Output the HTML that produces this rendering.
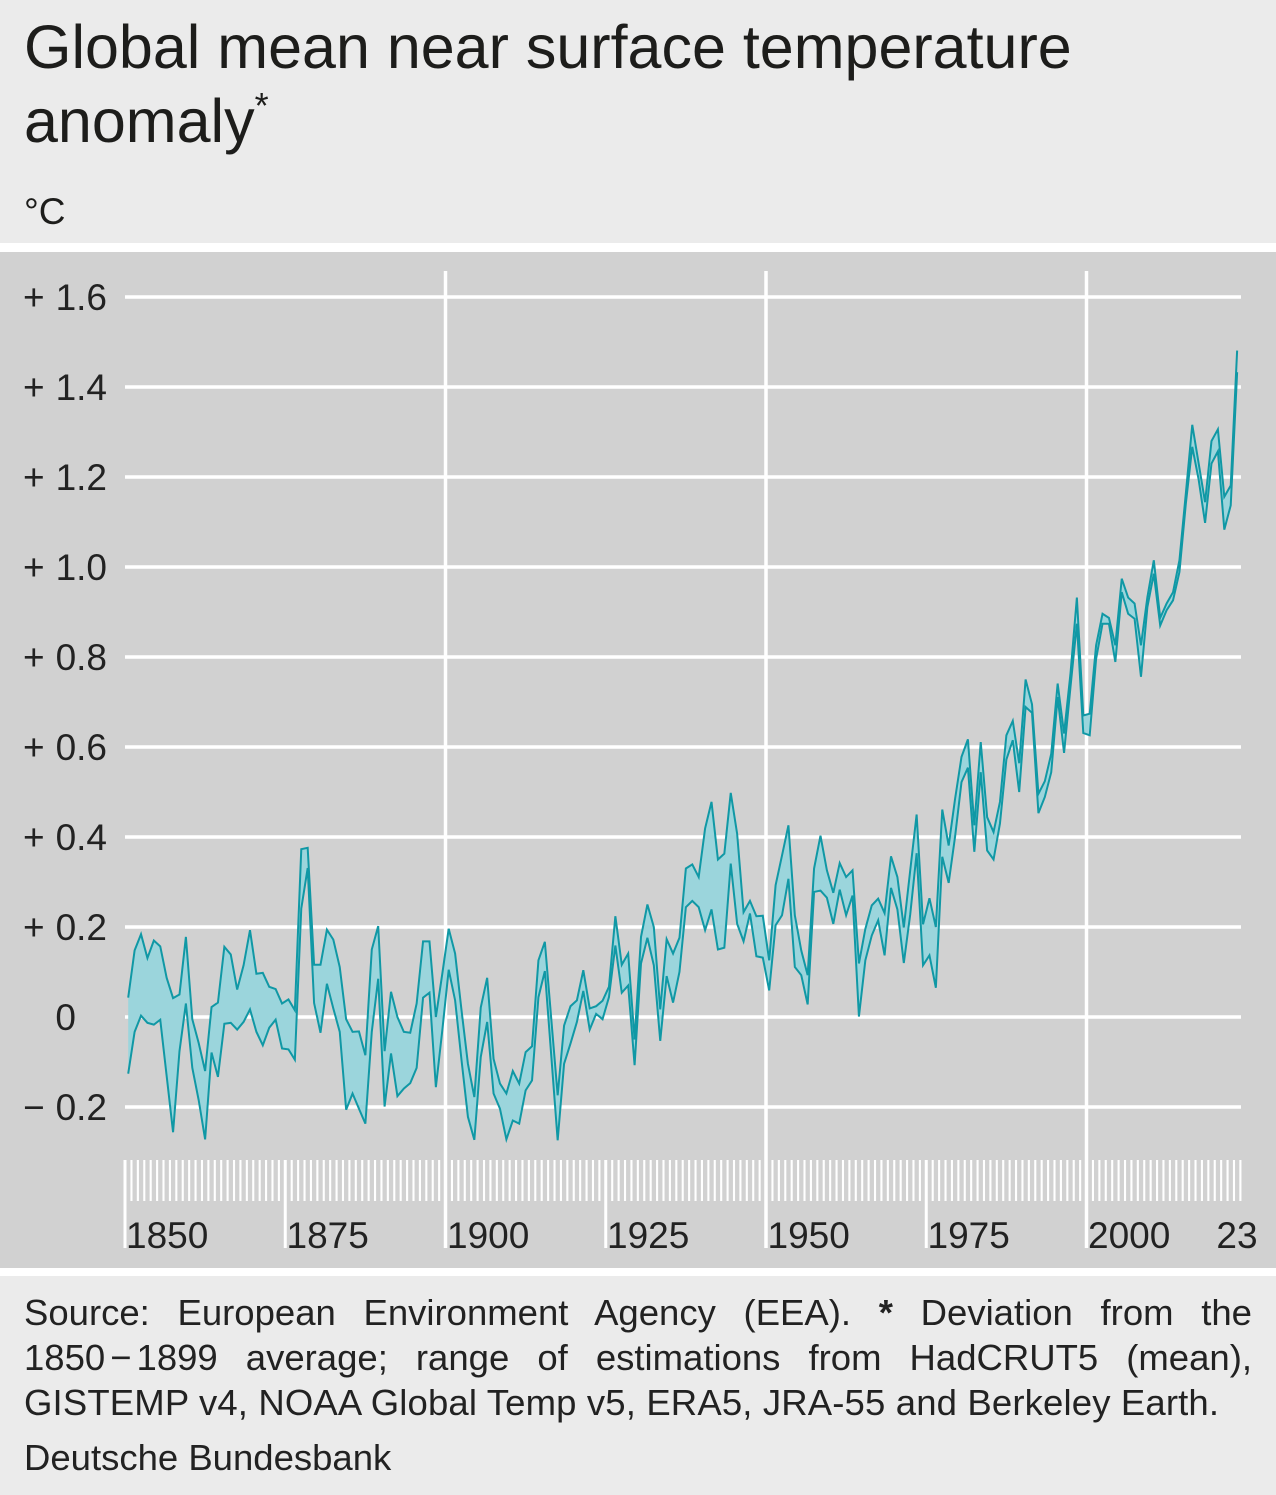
<!DOCTYPE html>
<html><head><meta charset="utf-8"><style>
html,body{margin:0;padding:0;}
body{width:1276px;height:1495px;position:relative;overflow:hidden;background:#ebebeb;font-family:"Liberation Sans",sans-serif;}
svg{position:absolute;left:0;top:0;}
.f{position:absolute;left:24px;width:1228px;font-size:36.5px;line-height:45px;color:#222;}
.j{text-align:justify;text-align-last:justify;}
</style></head><body>
<svg width="1276" height="1495" viewBox="0 0 1276 1495">
<defs>
<mask id="m" maskUnits="userSpaceOnUse" x="-10" y="-100" width="200" height="300">
<polygon fill="#fff" points="0,4.3 1,14.8 2,18.4 3,13.1 4,17 5,15.7 6,8.7 7,4.2 8,5 9,17.8 10,-0.5 11,-5.8 12,-12 13,2.2 14,3.2 15,15.6 16,13.9 17,6.1 18,11.5 19,19.3 20,9.6 21,9.8 22,6.7 23,6.2 24,3 25,3.9 26,1.5 27,37.3 28,37.6 29,11.6 30,11.6 31,19.4 32,17.2 33,11.1 34,-0.5 35,-3.3 36,-3.2 37,-8.5 38,15 39,20.2 40,-7.6 41,5.6 42,0 43,-3.3 44,-3.5 45,3 46,16.8 47,16.8 48,0 49,9.6 50,19.6 51,14.1 52,1.5 53,-10.4 54,-17.8 55,2.1 56,8.7 57,-9.3 58,-14.8 59,-17 60,-12 61,-14.8 62,-7.8 63,-6.5 64,12.6 65,16.7 66,-0.4 67,-17.4 68,-1.9 69,2.4 70,3.7 71,10.4 72,1.9 73,2.4 74,3.6 75,6.7 76,22.4 77,11.6 78,14.1 79,-5 80,17.8 81,25 82,20 83,1.7 84,17.3 85,14.1 86,17.6 87,33 88,33.9 89,31.1 90,41.9 91,47.8 92,35 93,36.3 94,49.8 95,40.7 96,23.3 97,25.8 98,22.4 99,22.5 100,12.6 101,29.3 102,35.9 103,42.6 104,22.6 105,14.8 106,9.3 107,33 108,40.3 109,32.6 110,27.6 111,34.2 112,31.1 113,32.6 114,11.9 115,19.6 116,24.8 117,26.3 118,23.1 119,35.7 120,31.1 121,19.9 122,32.6 123,45 124,20.6 125,26.4 126,20 127,46.1 128,38.1 129,48.5 130,57.8 131,61.7 132,42.6 133,61.1 134,44.4 135,41.1 136,47.8 137,62.6 138,65.8 139,56.4 140,75 141,69.5 142,49.6 143,52.4 144,58.5 145,74.1 146,63 147,76.3 148,93.2 149,67 150,67.4 151,82.6 152,89.6 153,88.7 154,82.6 155,97.4 156,93.2 157,91.9 158,82.6 159,93.3 160,101.5 161,88.7 162,91.9 163,94.4 164,101.5 165,116.4 166,131.6 167,123 168,114.4 169,128 170,130.6 171,115.6 172,118.1 173,148.1 173,-60 0,-60"/>
<polygon fill="#000" points="0,-12.6 1,-3.3 2,0.3 3,-1.3 4,-1.7 5,-0.6 6,-13.1 7,-25.6 8,-7.6 9,3 10,-11.3 11,-18.5 12,-27.2 13,-7.9 14,-13.3 15,-1.5 16,-1.3 17,-2.8 18,-1.1 19,1.7 20,-3.3 21,-6.3 22,-2.4 23,-0.6 24,-7 25,-7.2 26,-9.5 27,24.1 28,33.1 29,3.1 30,-3.5 31,7.4 32,1.9 33,-3.3 34,-20.6 35,-17 36,-20.4 37,-23.7 38,-3.3 39,8.5 40,-19.9 41,-8.1 42,-17.6 43,-15.9 44,-14.7 45,-11.3 46,4.3 47,5.4 48,-15.6 49,-3 50,10.5 51,3.7 52,-9.6 53,-22.2 54,-27.3 55,-8.9 56,-1.1 57,-17 58,-20.4 59,-27.2 60,-23 61,-23.7 62,-16.3 63,-14.1 64,4.4 65,10.2 66,-8.6 67,-27.4 68,-10.4 69,-5.9 70,-1.1 71,5.8 72,-2.8 73,0.7 74,-0.5 75,4.4 76,15.9 77,5.4 78,7 79,-10.7 80,11.9 81,17.6 82,11.5 83,-5.3 84,9.1 85,3.2 86,10 87,24.4 88,25.8 89,24.4 90,19.3 91,23.9 92,15 93,15.4 94,34.1 95,20.7 96,16.8 97,23 98,13.5 99,13.2 100,5.9 101,20.4 102,22.6 103,30.7 104,11.1 105,9.3 106,2.8 107,27.8 108,28.1 109,26.5 110,20.7 111,28.3 112,22.6 113,27 114,0.1 115,12.6 116,18.1 117,21.5 118,13.7 119,28.7 120,23.9 121,12 122,22.8 123,36.4 124,11.5 125,13.7 126,6.5 127,35.6 128,29.8 129,40.1 130,52.2 131,55.4 132,36.7 133,54.4 134,37 135,35 136,43 137,57.2 138,61.5 139,50 140,68.9 141,67.6 142,45.3 143,48.9 144,54.4 145,71.1 146,58.7 147,73.3 148,87.4 149,63.1 150,62.6 151,79.6 152,87.4 153,87.4 154,78.9 155,94.4 156,89.6 157,88.5 158,75.6 159,91.1 160,98.5 161,87 162,90.4 163,92.6 164,98.9 165,114.1 166,126.7 167,119.4 168,109.8 169,123 170,125.7 171,108.3 172,113.7 173,143.3 180,143.3 180,-80 -10,-80 -10,-12.6"/>
</mask>
</defs>
<rect width="1276" height="1495" fill="#ebebeb"/>
<rect y="243" width="1276" height="9" fill="#fff"/>
<rect y="252" width="1276" height="1016" fill="#d1d1d1"/>
<rect y="1268" width="1276" height="8" fill="#fff"/>

<g font-family="Liberation Sans, sans-serif" fill="#1d1d1b">
<text x="24" y="68" font-size="61">Global mean near surface temperature</text>
<text x="24" y="142" font-size="61">anomaly<tspan font-size="36" dy="-24">*</tspan></text>
<text x="24" y="224" font-size="37">°C</text>
</g>

<g stroke="#fff" stroke-width="3.5">
<line x1="125" y1="297" x2="1241" y2="297"/>
<line x1="125" y1="387" x2="1241" y2="387"/>
<line x1="125" y1="477" x2="1241" y2="477"/>
<line x1="125" y1="567" x2="1241" y2="567"/>
<line x1="125" y1="657" x2="1241" y2="657"/>
<line x1="125" y1="747" x2="1241" y2="747"/>
<line x1="125" y1="837" x2="1241" y2="837"/>
<line x1="125" y1="927" x2="1241" y2="927"/>
<line x1="125" y1="1017" x2="1241" y2="1017"/>
<line x1="125" y1="1107" x2="1241" y2="1107"/>
<line x1="445.5" y1="271" x2="445.5" y2="1248"/>
<line x1="766" y1="271" x2="766" y2="1248"/>
<line x1="1086.5" y1="271" x2="1086.5" y2="1248"/>
</g>
<line x1="124" y1="1180.5" x2="1242" y2="1180.5" stroke="#fff" stroke-width="41" stroke-dasharray="2.1 4.31"/>
<g stroke="#fff" stroke-width="3">
<line x1="125" y1="1160" x2="125" y2="1248"/>
<line x1="285.25" y1="1160" x2="285.25" y2="1248"/>
<line x1="605.75" y1="1160" x2="605.75" y2="1248"/>
<line x1="926.25" y1="1160" x2="926.25" y2="1248"/>
</g>

<g transform="translate(128.2 1017) scale(6.41 -4.5)">
<rect x="-1" y="-60" width="176" height="220" fill="#9bd5dc" mask="url(#m)"/>
<polyline fill="none" stroke="#1098a5" stroke-width="2" vector-effect="non-scaling-stroke" stroke-linejoin="miter" points="0,4.3 1,14.8 2,18.4 3,13.1 4,17 5,15.7 6,8.7 7,4.2 8,5 9,17.8 10,-0.5 11,-5.8 12,-12 13,2.2 14,3.2 15,15.6 16,13.9 17,6.1 18,11.5 19,19.3 20,9.6 21,9.8 22,6.7 23,6.2 24,3 25,3.9 26,1.5 27,37.3 28,37.6 29,11.6 30,11.6 31,19.4 32,17.2 33,11.1 34,-0.5 35,-3.3 36,-3.2 37,-8.5 38,15 39,20.2 40,-7.6 41,5.6 42,0 43,-3.3 44,-3.5 45,3 46,16.8 47,16.8 48,0 49,9.6 50,19.6 51,14.1 52,1.5 53,-10.4 54,-17.8 55,2.1 56,8.7 57,-9.3 58,-14.8 59,-17 60,-12 61,-14.8 62,-7.8 63,-6.5 64,12.6 65,16.7 66,-0.4 67,-17.4 68,-1.9 69,2.4 70,3.7 71,10.4 72,1.9 73,2.4 74,3.6 75,6.7 76,22.4 77,11.6 78,14.1 79,-5 80,17.8 81,25 82,20 83,1.7 84,17.3 85,14.1 86,17.6 87,33 88,33.9 89,31.1 90,41.9 91,47.8 92,35 93,36.3 94,49.8 95,40.7 96,23.3 97,25.8 98,22.4 99,22.5 100,12.6 101,29.3 102,35.9 103,42.6 104,22.6 105,14.8 106,9.3 107,33 108,40.3 109,32.6 110,27.6 111,34.2 112,31.1 113,32.6 114,11.9 115,19.6 116,24.8 117,26.3 118,23.1 119,35.7 120,31.1 121,19.9 122,32.6 123,45 124,20.6 125,26.4 126,20 127,46.1 128,38.1 129,48.5 130,57.8 131,61.7 132,42.6 133,61.1 134,44.4 135,41.1 136,47.8 137,62.6 138,65.8 139,56.4 140,75 141,69.5 142,49.6 143,52.4 144,58.5 145,74.1 146,63 147,76.3 148,93.2 149,67 150,67.4 151,82.6 152,89.6 153,88.7 154,82.6 155,97.4 156,93.2 157,91.9 158,82.6 159,93.3 160,101.5 161,88.7 162,91.9 163,94.4 164,101.5 165,116.4 166,131.6 167,123 168,114.4 169,128 170,130.6 171,115.6 172,118.1 173,148.1"/>
<polyline fill="none" stroke="#1098a5" stroke-width="2" vector-effect="non-scaling-stroke" stroke-linejoin="miter" points="0,-12.6 1,-3.3 2,0.3 3,-1.3 4,-1.7 5,-0.6 6,-13.1 7,-25.6 8,-7.6 9,3 10,-11.3 11,-18.5 12,-27.2 13,-7.9 14,-13.3 15,-1.5 16,-1.3 17,-2.8 18,-1.1 19,1.7 20,-3.3 21,-6.3 22,-2.4 23,-0.6 24,-7 25,-7.2 26,-9.5 27,24.1 28,33.1 29,3.1 30,-3.5 31,7.4 32,1.9 33,-3.3 34,-20.6 35,-17 36,-20.4 37,-23.7 38,-3.3 39,8.5 40,-19.9 41,-8.1 42,-17.6 43,-15.9 44,-14.7 45,-11.3 46,4.3 47,5.4 48,-15.6 49,-3 50,10.5 51,3.7 52,-9.6 53,-22.2 54,-27.3 55,-8.9 56,-1.1 57,-17 58,-20.4 59,-27.2 60,-23 61,-23.7 62,-16.3 63,-14.1 64,4.4 65,10.2 66,-8.6 67,-27.4 68,-10.4 69,-5.9 70,-1.1 71,5.8 72,-2.8 73,0.7 74,-0.5 75,4.4 76,15.9 77,5.4 78,7 79,-10.7 80,11.9 81,17.6 82,11.5 83,-5.3 84,9.1 85,3.2 86,10 87,24.4 88,25.8 89,24.4 90,19.3 91,23.9 92,15 93,15.4 94,34.1 95,20.7 96,16.8 97,23 98,13.5 99,13.2 100,5.9 101,20.4 102,22.6 103,30.7 104,11.1 105,9.3 106,2.8 107,27.8 108,28.1 109,26.5 110,20.7 111,28.3 112,22.6 113,27 114,0.1 115,12.6 116,18.1 117,21.5 118,13.7 119,28.7 120,23.9 121,12 122,22.8 123,36.4 124,11.5 125,13.7 126,6.5 127,35.6 128,29.8 129,40.1 130,52.2 131,55.4 132,36.7 133,54.4 134,37 135,35 136,43 137,57.2 138,61.5 139,50 140,68.9 141,67.6 142,45.3 143,48.9 144,54.4 145,71.1 146,58.7 147,73.3 148,87.4 149,63.1 150,62.6 151,79.6 152,87.4 153,87.4 154,78.9 155,94.4 156,89.6 157,88.5 158,75.6 159,91.1 160,98.5 161,87 162,90.4 163,92.6 164,98.9 165,114.1 166,126.7 167,119.4 168,109.8 169,123 170,125.7 171,108.3 172,113.7 173,143.3"/>
</g>

<g font-family="Liberation Sans, sans-serif" font-size="37" fill="#222">
<text x="23" y="310">+</text><text x="107" y="310" text-anchor="end">1.6</text>
<text x="23" y="400">+</text><text x="107" y="400" text-anchor="end">1.4</text>
<text x="23" y="490">+</text><text x="107" y="490" text-anchor="end">1.2</text>
<text x="23" y="580">+</text><text x="107" y="580" text-anchor="end">1.0</text>
<text x="23" y="670">+</text><text x="107" y="670" text-anchor="end">0.8</text>
<text x="23" y="760">+</text><text x="107" y="760" text-anchor="end">0.6</text>
<text x="23" y="850">+</text><text x="107" y="850" text-anchor="end">0.4</text>
<text x="23" y="940">+</text><text x="107" y="940" text-anchor="end">0.2</text>
<text x="76" y="1030" text-anchor="end">0</text>
<text x="23" y="1120">−</text><text x="107" y="1120" text-anchor="end">0.2</text>

<text x="126" y="1248">1850</text>
<text x="286.5" y="1248">1875</text>
<text x="447" y="1248">1900</text>
<text x="607" y="1248">1925</text>
<text x="767.5" y="1248">1950</text>
<text x="927.5" y="1248">1975</text>
<text x="1088" y="1248">2000</text>
<text x="1237" y="1248" text-anchor="middle">23</text>
</g>
</svg>
<div class="f j" style="top:1290px">Source: European Environment Agency (EEA). <b>*</b> Deviation from the</div>
<div class="f j" style="top:1335px">1850<span style="margin:0 5px">−</span>1899 average; range of estimations from HadCRUT5 (mean),</div>
<div class="f" style="top:1380px;letter-spacing:0.15px">GISTEMP v4, NOAA Global Temp v5, ERA5, JRA-55 and Berkeley Earth.</div>
<div class="f" style="top:1435px">Deutsche Bundesbank</div>
</body></html>
